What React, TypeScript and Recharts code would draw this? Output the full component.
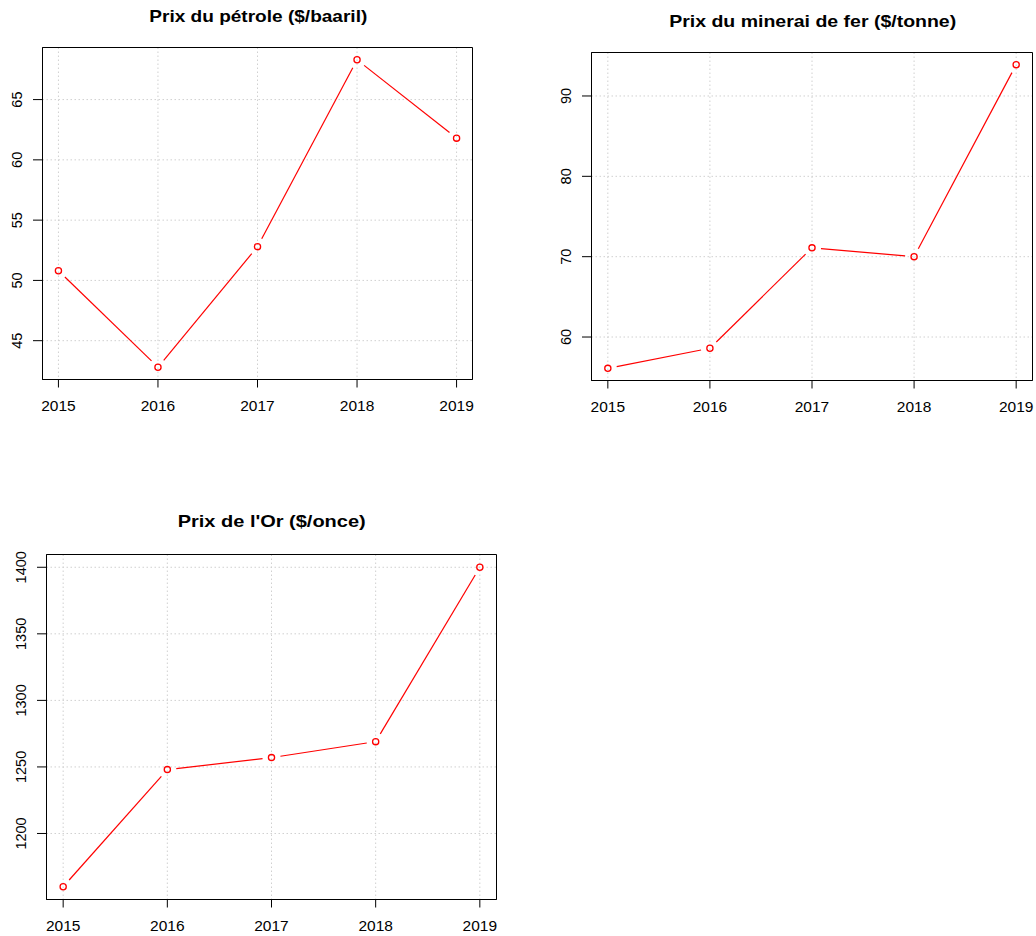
import React from 'react';
import { LineChart, Line, XAxis, YAxis, CartesianGrid, ReferenceArea } from 'recharts';

const years = [2015, 2016, 2017, 2018, 2019];
const oilPrices = [50.8, 42.8, 52.8, 68.3, 61.8];
const ironPrices = [56.1, 58.6, 71.1, 70.0, 93.9];
const goldPrices = [1160, 1248, 1257, 1269, 1400];

const oilTicks = [45, 50, 55, 60, 65];
const ironTicks = [60, 70, 80, 90];
const goldTicks = [1200, 1250, 1300, 1350, 1400];

const titles = ['Prix du pétrole ($/baaril)', 'Prix du minerai de fer ($/tonne)', "Prix de l'Or ($/once)"];

const FONT = '"Liberation Sans", Arial, Helvetica, sans-serif';
const RED = '#ff0000';
const GAP = 9;

const pad = (arr: number[]): [number, number] => {
  const mn = Math.min(...arr);
  const mx = Math.max(...arr);
  const r = mx - mn;
  return [mn - 0.04 * r, mx + 0.04 * r];
};

const xDomain = pad(years);

const toRows = (vals: number[]) => years.map((y, i) => ({ year: y, value: vals[i] }));

const GapDot = (props: any) => {
  const { cx, cy, index, points } = props;
  let seg: any = null;
  if (points && index < points.length - 1) {
    const p = points[index + 1];
    const dx = p.x - cx;
    const dy = p.y - cy;
    const d = Math.hypot(dx, dy);
    if (d > 2 * GAP) {
      const ux = dx / d;
      const uy = dy / d;
      seg = (
        <line
          x1={cx + ux * GAP}
          y1={cy + uy * GAP}
          x2={p.x - ux * GAP}
          y2={p.y - uy * GAP}
          stroke={RED}
          strokeWidth={1.2}
        />
      );
    }
  }
  return (
    <g key={`gd-${index}`}>
      {seg}
      <circle cx={cx} cy={cy} r={3.1} fill="none" stroke={RED} strokeWidth={1.3} />
    </g>
  );
};

const XTick = (props: any) => {
  const { x, y, payload } = props;
  return (
    <text
      x={x}
      y={y + 23.5}
      textAnchor="middle"
      fontFamily={FONT}
      fontSize={14}
      fill="#000"
      textLength={34.5}
      lengthAdjust="spacingAndGlyphs"
    >
      {payload.value}
    </text>
  );
};

const YTick = (props: any) => {
  const { x, y, payload } = props;
  return (
    <text
      transform={`translate(${x - 11.5},${y}) rotate(-90)`}
      textAnchor="middle"
      fontFamily={FONT}
      fontSize={14.5}
      fill="#000"
    >
      {payload.value}
    </text>
  );
};

type PanelProps = {
  vals: number[];
  ticks: number[];
  left: number;
  top: number;
  width: number;
  height: number;
  yWidth: number;
  margin: { top: number; right: number; bottom: number; left: number };
  xHeight: number;
};

const Panel = ({ vals, ticks, left, top, width, height, yWidth, margin, xHeight }: PanelProps) => {
  const yDomain = pad(vals);
  return (
    <div style={{ position: 'absolute', left, top, width, height }}>
      <LineChart width={width} height={height} data={toRows(vals)} margin={margin}>
        <CartesianGrid stroke="#d0d0d0" strokeDasharray="1.5 2.5" />
        <XAxis
          dataKey="year"
          type="number"
          domain={xDomain}
          ticks={years}
          allowDataOverflow
          height={xHeight}
          tickSize={8}
          tickMargin={0}
          tickLine={{ stroke: '#000' }}
          axisLine={{ stroke: '#000' }}
          tick={<XTick />}
        />
        <YAxis
          type="number"
          domain={yDomain}
          ticks={ticks}
          allowDataOverflow
          width={yWidth}
          tickSize={9.5}
          tickMargin={0}
          tickLine={{ stroke: '#000' }}
          axisLine={{ stroke: '#000' }}
          tick={<YTick />}
        />
        <ReferenceArea
          x1={xDomain[0]}
          x2={xDomain[1]}
          y1={yDomain[0]}
          y2={yDomain[1]}
          fill="none"
          fillOpacity={0}
          stroke="#000"
          strokeWidth={1}
          ifOverflow="visible"
        />
        <Line
          dataKey="value"
          type="linear"
          stroke="none"
          dot={GapDot}
          activeDot={false}
          isAnimationActive={false}
        />
      </LineChart>
    </div>
  );
};

export default function App() {
  return (
    <div style={{ position: 'absolute', left: 0, top: 0, width: 1036, height: 936, background: '#fff' }}>
      <Panel
        vals={oilPrices}
        ticks={oilTicks}
        left={0}
        top={0}
        width={518}
        height={440}
        yWidth={42.5}
        xHeight={40}
        margin={{ top: 47.5, right: 45.5, bottom: 20.5, left: 0 }}
      />
      <Panel
        vals={ironPrices}
        ticks={ironTicks}
        left={518}
        top={0}
        width={518}
        height={440}
        yWidth={73.5}
        xHeight={40}
        margin={{ top: 52.5, right: 3.5, bottom: 19.5, left: 0 }}
      />
      <Panel
        vals={goldPrices}
        ticks={goldTicks}
        left={0}
        top={468}
        width={518}
        height={468}
        yWidth={46.5}
        xHeight={36}
        margin={{ top: 86.5, right: 21.5, bottom: 0.5, left: 0 }}
      />
      <svg width={1036} height={936} style={{ position: 'absolute', left: 0, top: 0, pointerEvents: 'none' }}>
        <text x={258.3} y={21.7} textAnchor="middle" fontFamily={FONT} fontWeight="bold" fontSize={16.3} textLength={218} lengthAdjust="spacingAndGlyphs">
          {titles[0]}
        </text>
        <text x={812.7} y={26.7} textAnchor="middle" fontFamily={FONT} fontWeight="bold" fontSize={16.3} textLength={287} lengthAdjust="spacingAndGlyphs">
          {titles[1]}
        </text>
        <text x={271.7} y={526.7} textAnchor="middle" fontFamily={FONT} fontWeight="bold" fontSize={16.3} textLength={188} lengthAdjust="spacingAndGlyphs">
          {titles[2]}
        </text>
      </svg>
    </div>
  );
}
